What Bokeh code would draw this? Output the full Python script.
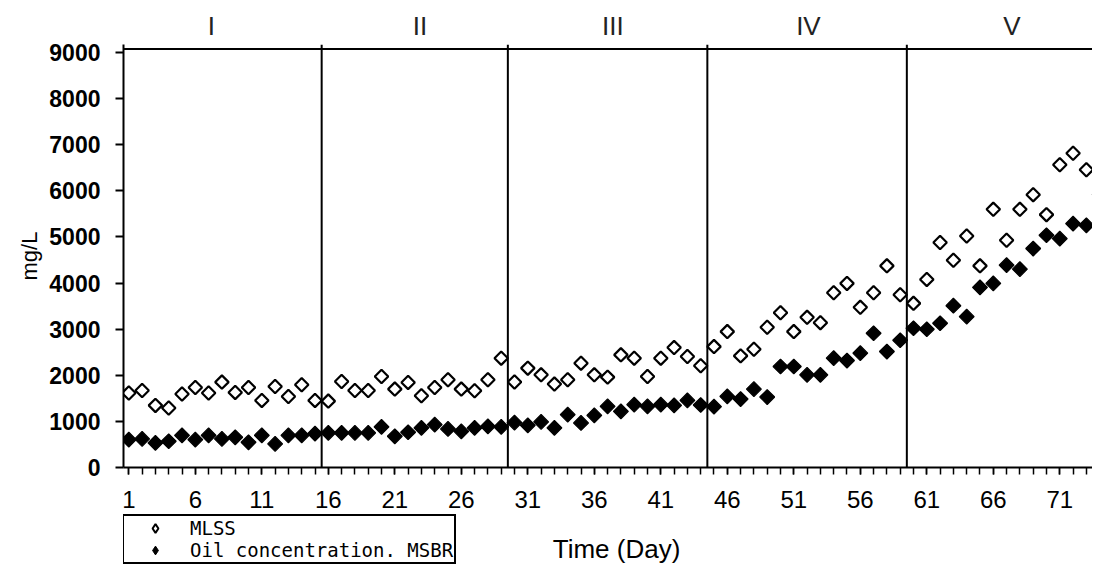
import math
from bokeh.plotting import figure
from bokeh.layouts import column
from bokeh.models import (Range1d, FixedTicker, Span, Label, Legend, LegendItem,
                          ColumnDataSource, LinearAxis)
from bokeh.embed import file_html
from bokeh.resources import INLINE

# ---------------- data ----------------
days = list(range(1, 76))
mlss = [1615, 1671, 1347, 1290, 1593, 1736, 1615, 1852, 1628, 1736, 1455, 1758, 1541, 1794, 1455,
        1440, 1866, 1671, 1671, 1974, 1700, 1845, 1556, 1736, 1902, 1700, 1664, 1902, 2371, 1855,
        2155, 2010, 1809, 1902, 2263, 2010, 1960, 2443, 2371, 1974, 2371, 2601, 2406, 2208, 2622,
        2947, 2421, 2566, 3041, 3357, 2947, 3257, 3141, 3790, 3993, 3474, 3790, 4373, 3747, 3560,
        4079, 4879, 4496, 5022, 4373, 5599, 4929, 5599, 5917, 5484, 6565, 6816, 6457, 7940, 7650]
oil = [605, 620, 534, 569, 698, 605, 698, 620, 655, 547, 698, 512, 698, 698, 735,
       750, 750, 750, 750, 880, 677, 764, 858, 930, 836, 785, 858, 893, 882, 973,
       915, 988, 858, 1146, 966, 1131, 1326, 1218, 1362, 1326, 1362, 1348, 1455, 1355, 1320,
       1541, 1485, 1700, 1528, 2190, 2190, 2010, 2010, 2371, 2320, 2479, 2912, 2515, 2760, 3020,
       2998, 3128, 3509, 3271, 3906, 3993, 4388, 4302, 4749, 5037, 4965, 5290, 5253, 5917, 6100]

phase_names = ["I", "II", "III", "IV", "V"]
phase_bounds = [15.5, 29.5, 44.5, 59.5]
phase_label_day = [7.2, 22.9, 37.4, 52.1, 67.4]

x_tick_days = [1, 6, 11, 16, 21, 26, 31, 36, 41, 46, 51, 56, 61, 66, 71]
y_ticks = [0, 1000, 2000, 3000, 4000, 5000, 6000, 7000, 8000, 9000]

series_labels = ["MLSS", "Oil concentration. MSBR"]
x_title = "Time (Day)"
y_title = "mg/L"

SANS = "Liberation Sans"
W = 1092
H1 = 514
H2 = 50

xr = Range1d(0.6, 73.46)

# ---------------- main figure ----------------
p = figure(width=W, height=H1, output_backend="svg", toolbar_location=None,
           x_range=xr, y_range=Range1d(0, 9174),
           min_border_left=123, min_border_right=0, min_border_top=44, min_border_bottom=47)
p.outline_line_color = None
p.grid.visible = False
p.background_fill_color = "white"
p.border_fill_color = "white"

xa = p.xaxis[0]
xa.ticker = FixedTicker(ticks=x_tick_days, minor_ticks=days)
xa.axis_line_width = 2
xa.axis_line_color = "black"
xa.major_tick_in = 0
xa.major_tick_out = 7
xa.minor_tick_in = 0
xa.minor_tick_out = 7
xa.major_tick_line_width = 1.5
xa.minor_tick_line_width = 1.5
xa.major_label_text_font = SANS
xa.major_label_text_font_size = "24px"
xa.major_label_text_color = "black"
xa.major_label_standoff = 16

ya = p.yaxis[0]
ya.ticker = FixedTicker(ticks=y_ticks)
ya.axis_line_width = 2
ya.axis_line_color = "black"
ya.major_tick_in = 0
ya.major_tick_out = 8
ya.major_tick_line_width = 2
ya.minor_tick_line_color = None
ya.major_label_text_font = SANS
ya.major_label_text_font_size = "23px"
ya.major_label_text_font_style = "bold"
ya.major_label_text_color = "black"
ya.major_label_standoff = 15
ya.axis_label = y_title
ya.axis_label_text_font = SANS
ya.axis_label_text_font_size = "22px"
ya.axis_label_text_font_style = "normal"
ya.axis_label_text_color = "black"
ya.axis_label_standoff = 4

# phase names along the top
top_axis = LinearAxis(ticker=FixedTicker(ticks=phase_label_day),
                      major_label_overrides={d: n for d, n in zip(phase_label_day, phase_names)},
                      axis_line_color=None, major_tick_line_color=None, minor_tick_line_color=None,
                      major_tick_out=0, major_tick_in=0,
                      major_label_standoff=4, major_label_text_font=SANS,
                      major_label_text_font_size="26px", major_label_text_color="#222222")
p.add_layout(top_axis, "above")

# top frame line
p.add_layout(Span(location=9074, dimension="width", line_color="black", line_width=2))

# phase boundaries
for b in phase_bounds:
    p.add_layout(Span(location=b, dimension="height", line_color="black", line_width=2))

hollow = dict(marker="square", angle=math.pi / 4, size=9.5,
              fill_color="white", line_color="black", line_width=2.2)
filled = dict(marker="square", angle=math.pi / 4, size=10.5,
              fill_color="black", line_color="black", line_width=1.2)

src = ColumnDataSource(dict(day=days, mlss=mlss, oil=oil))
p.scatter("day", "mlss", source=src, **hollow)
p.scatter("day", "oil", source=src, **filled)

# ---------------- bottom strip: legend + x title ----------------
p2 = figure(width=W, height=H2, output_backend="svg", toolbar_location=None,
            x_range=xr, y_range=Range1d(0, H2),
            min_border_left=0, min_border_right=0, min_border_top=0, min_border_bottom=0)
p2.axis.visible = False
p2.grid.visible = False
p2.outline_line_color = None
p2.background_fill_color = "white"
p2.border_fill_color = "white"

# legend entries describe the two series (renderers hidden in this strip)
l1 = p2.scatter("day", "mlss", source=src, visible=False, marker="diamond", size=12,
                fill_color="white", line_color="black", line_width=2)
l2 = p2.scatter("day", "oil", source=src, visible=False, marker="diamond", size=13,
                fill_color="black", line_color="black", line_width=1)

legend = Legend(items=[LegendItem(label=series_labels[0], renderers=[l1]),
                       LegendItem(label=series_labels[1], renderers=[l2])],
                location=(-1, 0), orientation="vertical",
                border_line_color="black", border_line_width=2, border_line_alpha=1,
                background_fill_color="white", background_fill_alpha=1,
                inactive_fill_alpha=0,
                padding=1, margin=0, spacing=0,
                glyph_width=60, glyph_height=22, label_height=22, label_standoff=5,
                label_text_font="DejaVu Sans Mono", label_text_font_size="19px",
                label_text_color="black", label_text_baseline="middle")
p2.add_layout(legend)

p2.add_layout(Label(x=37.67, y=16, text=x_title, text_font=SANS, text_font_size="26px",
                    text_color="black", text_align="center", text_baseline="middle"))

layout = column(p, p2, spacing=0)
open("out.html", "w").write(file_html(layout, INLINE))
